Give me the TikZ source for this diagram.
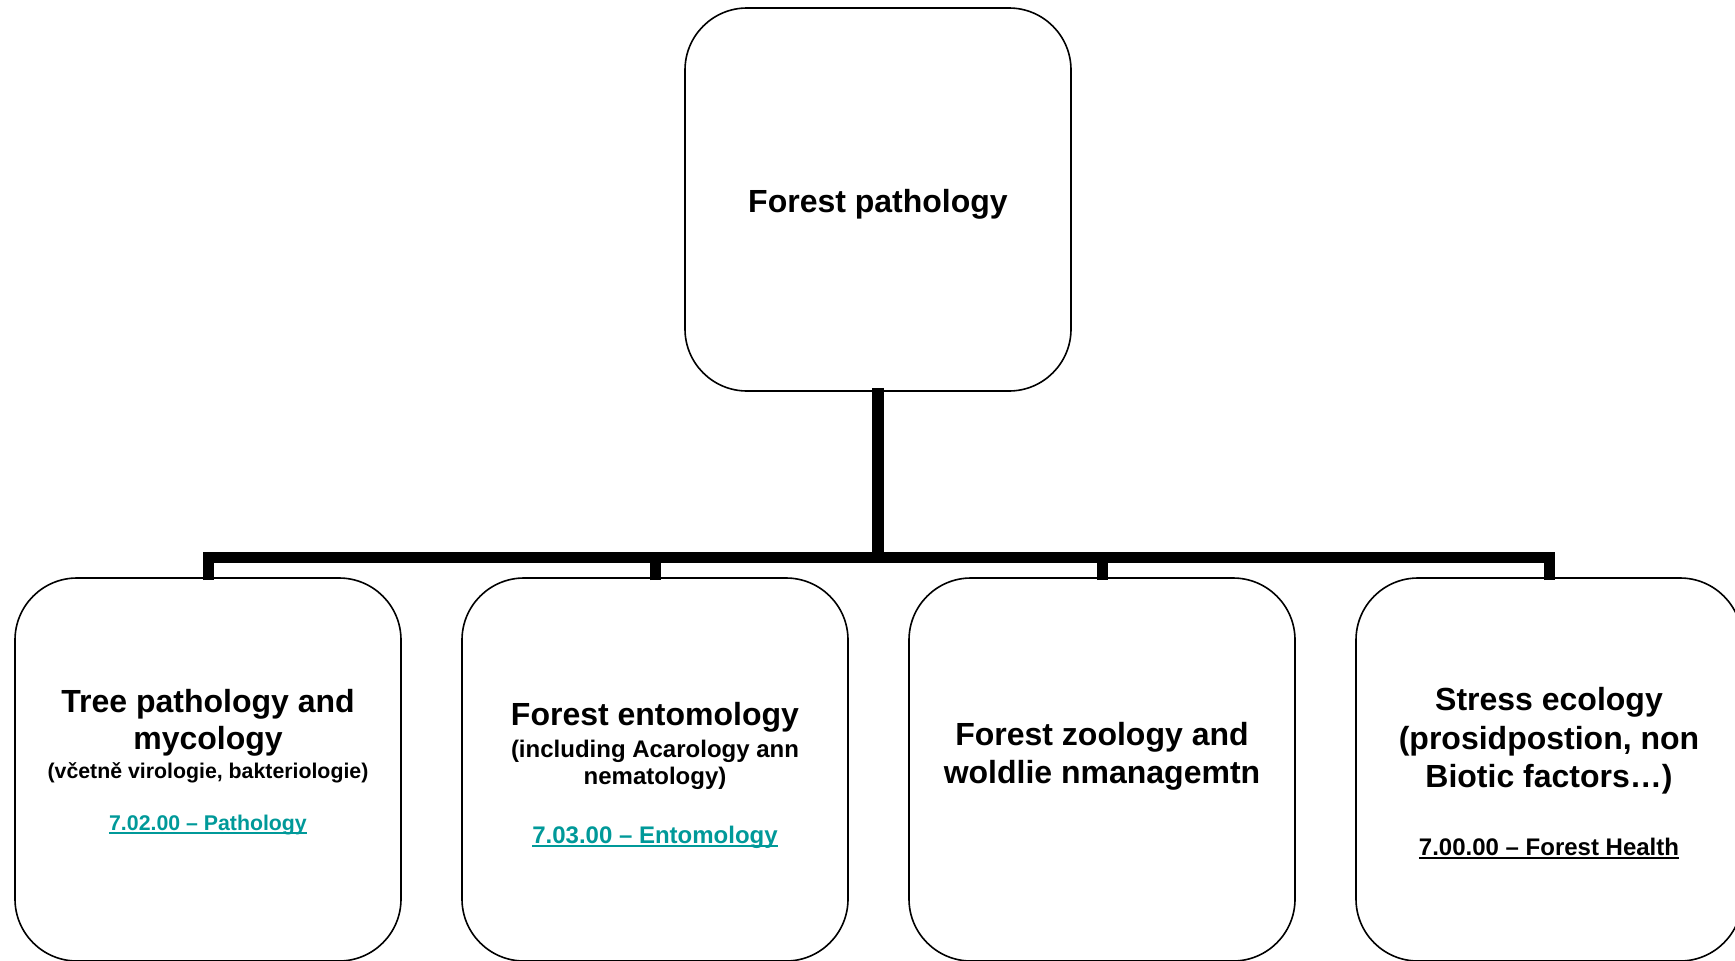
\documentclass[tikz,border=0pt]{standalone}
\usepackage{fontspec}
\setmainfont{Liberation Sans}
\definecolor{linkteal}{RGB}{0,153,153}
\begin{document}
\begin{tikzpicture}[x=1pt,y=-1pt,
  box/.style={draw=black, line width=1.6pt, rounded corners=62pt, minimum width=386pt, minimum height=383pt, inner sep=0pt},
  conn/.style={draw=black, line width=12pt},
  drop/.style={draw=black, line width=11pt},
  big/.style={inner sep=0pt, anchor=base, font=\fontsize{32}{36}\selectfont\bfseries},
  small/.style={inner sep=0pt, anchor=base, font=\fontsize{21.3}{25}\selectfont\bfseries},
  mid/.style={inner sep=0pt, anchor=base, font=\fontsize{24}{28}\selectfont\bfseries},
  ulteal/.style={draw=linkteal, line width=2pt},
  ulblack/.style={draw=black, line width=2pt}]
\useasboundingbox (0,0) rectangle (1735,961);
\fill[white] (0,0) rectangle (1735,961);

% boxes
\node[box] (top) at (878,199.5) {};
\node[box] (b1) at (208,769.5) {};
\node[box] (b2) at (655,769.5) {};
\node[box] (b3) at (1102,769.5) {};
\node[box] (b4) at (1549,769.5) {};

% connectors
\coordinate (j) at (878,557);
\draw[conn] ([yshift=4pt]top.south) -- (j);
\draw[drop] ([yshift=-3pt]b1.north) |- (j);
\draw[drop] ([yshift=-3pt]b2.north) |- (j);
\draw[drop] ([yshift=-3pt]b3.north) |- (j);
\draw[drop] ([yshift=-3pt]b4.north) |- (j);

% texts
\node[big] (t0) at (878,212) {Forest pathology};

\node[big] (t11) at (208,712) {Tree pathology and};
\node[big] (t12) at (208,749) {mycology};
\node[small] (t13) at (208,778) {(včetně virologie, bakteriologie)};
\node[small, text=linkteal] (t14) at (208,830) {7.02.00 – Pathology};
\draw[ulteal] ([yshift=-3pt]t14.base west) -- ([yshift=-3pt]t14.base east);

\node[big] (t21) at (655,725) {Forest entomology};
\node[mid] (t22) at (655,757) {(including Acarology ann};
\node[mid] (t23) at (655,784) {nematology)};
\node[mid, text=linkteal] (t24) at (655,843) {7.03.00 – Entomology};
\draw[ulteal] ([yshift=-3pt]t24.base west) -- ([yshift=-3pt]t24.base east);

\node[big] (t31) at (1102,745) {Forest zoology and};
\node[big] (t32) at (1102,783) {woldlie nmanagemtn};

\node[big] (t41) at (1549,710) {Stress ecology};
\node[big] (t42) at (1549,749) {(prosidpostion, non};
\node[big] (t43) at (1549,787) {Biotic factors…)};
\node[mid] (t44) at (1549,855) {7.00.00 – Forest Health};
\draw[ulblack] ([yshift=-3pt]t44.base west) -- ([yshift=-3pt]t44.base east);
\end{tikzpicture}
\end{document}
